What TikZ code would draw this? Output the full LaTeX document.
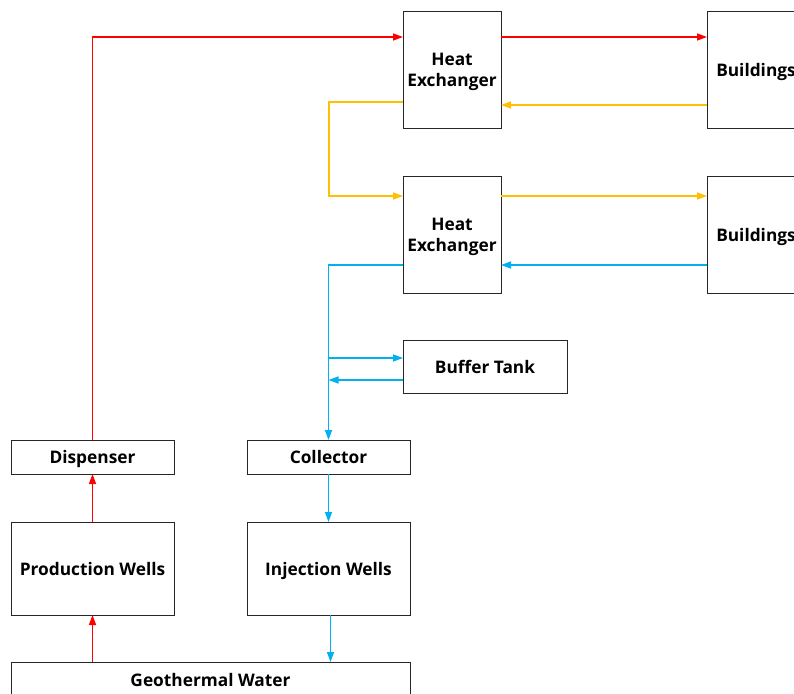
\documentclass[tikz,border=0pt]{standalone}
\usepackage{fontspec}
\setmainfont{Open Sans}
\usetikzlibrary{arrows.meta}
\definecolor{hotred}{HTML}{FF0000}
\definecolor{warmyel}{HTML}{FFC000}
\definecolor{coolblue}{HTML}{00B0F0}
\tikzset{
  box/.style={draw=black!85, line width=0.8pt, fill=white, outer sep=0pt, inner sep=2pt,
    font=\fontsize{17.3}{21}\selectfont\bfseries, align=center, text depth=0pt},
  flow/.style={line width=1.4pt, -{Triangle[length=10pt,width=7pt]}},
  redflow/.style={flow, draw=hotred},
  yelflow/.style={flow, draw=warmyel},
  blueflow/.style={flow, draw=coolblue},
}
\begin{document}
\begin{tikzpicture}[x=1pt,y=-1pt]
\clip (0,0) rectangle (794,693);
\fill[white] (0,0) rectangle (794,693);
% nodes
\node[box, minimum width=98, minimum height=117] (he1) at (452,69.5) {Heat\\Exchanger};
\node[box, minimum width=98, minimum height=117] (b1) at (756,69.5) {Buildings};
\node[box, minimum width=98, minimum height=117] (he2) at (452,234.5) {Heat\\Exchanger};
\node[box, minimum width=98, minimum height=117] (b2) at (756,234.5) {Buildings};
\node[box, minimum width=164, minimum height=53] (buf) at (485,366.5) {Buffer Tank};
\node[box, minimum width=163, minimum height=34] (disp) at (92.5,457) {Dispenser};
\node[box, minimum width=163, minimum height=34] (coll) at (328.5,457) {Collector};
\node[box, minimum width=163, minimum height=93] (prod) at (92.5,568.5) {Production Wells};
\node[box, minimum width=163, minimum height=93] (inj) at (328.5,568.5) {Injection Wells};
\node[box, minimum width=399, minimum height=36] (geo) at (210.5,680) {Geothermal Water};
% red circuit
\draw[redflow] (geo.north -| prod.south) -- (prod.south);
\draw[redflow] (prod.north) -- (disp.south);
\draw[redflow] (disp.north) |- ([yshift=-26pt]he1.north west);
\draw[redflow] ([yshift=-26pt]he1.north east) -- ([yshift=-26pt]b1.north west);
% yellow circuit
\draw[yelflow] ([yshift=-94pt]b1.north west) -- ([yshift=-94pt]he1.north east);
\draw[yelflow] ([yshift=-91pt]he1.north west) -- ++(-74,0) |- ([yshift=-20pt]he2.north west);
\draw[yelflow] ([yshift=-20pt]he2.north east) -- ([yshift=-20pt]b2.north west);
% blue circuit
\draw[blueflow] ([yshift=-89pt]b2.north west) -- ([yshift=-89pt]he2.north east);
\draw[blueflow] ([yshift=-89pt]he2.north west) -| (coll.north);
\coordinate (bufin) at ([yshift=8.5pt]buf.west);
\coordinate (bufout) at ([yshift=-13.5pt]buf.west);
\draw[blueflow] (coll.north |- bufin) -- (bufin);
\draw[blueflow] (bufout) -- (coll.north |- bufout);
\draw[blueflow] (coll.south) -- (inj.north);
\draw[blueflow] ([xshift=2pt]inj.south) -- ([xshift=2pt]inj.south |- geo.north);
\end{tikzpicture}
\end{document}
